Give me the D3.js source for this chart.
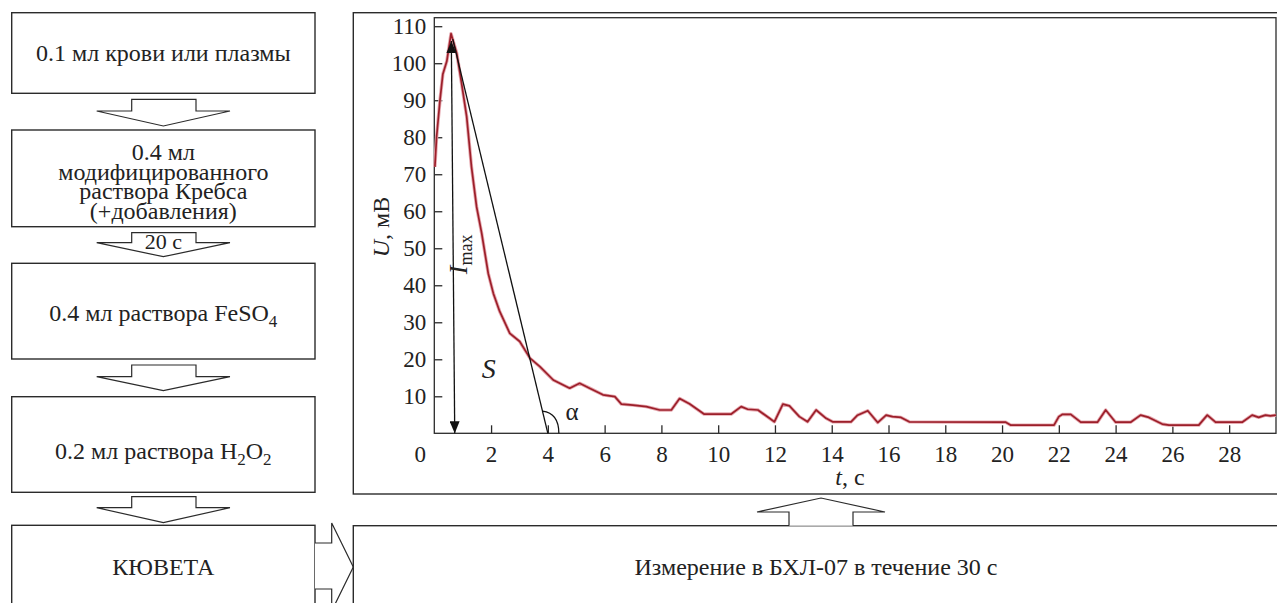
<!DOCTYPE html>
<meta charset="utf-8">
<style>
body { margin: 0; background: #fff; }
svg text { font-family: "Liberation Serif", "Times New Roman", serif; fill: #222; }
.box { fill: none; stroke: #2b2b2b; stroke-width: 1.4; }
.blk { fill: #fff; stroke: #2b2b2b; stroke-width: 1.2; stroke-linejoin: miter; }
.axis path { display: none; }
.axis line { stroke: #2b2b2b; stroke-width: 1.3; }
.axis text { font-family: "Liberation Serif", "Times New Roman", serif; font-size: 23px; fill: #222; }
</style>
<body>
<svg width="1277" height="603"></svg>
<script src="https://d3js.org/d3.v7.min.js"></script>
<script>

// Flow-chart steps (left column), "_n" marks a subscript digit
var steps = [
  ["0.1 мл крови или плазмы"],
  ["0.4 мл", "модифицированного", "раствора Кребса", "(+добавления)"],
  ["0.4 мл раствора FeSO_4"],
  ["0.2 мл раствора H_2O_2"],
  ["КЮВЕТА"]
];
var delayLabel = "20 с";
var measureLabel = "Измерение в БХЛ-07 в течение 30 с";

// Chemiluminescence record: time (s) and signal (mV)
var tValues = [
  0.02, 0.08, 0.2, 0.3, 0.44, 0.59, 0.79, 0.96, 1.14, 1.31,
  1.49, 1.67, 1.9, 2.08, 2.3, 2.66, 3.01, 3.37, 3.72, 4.19,
  4.77, 5.12, 5.47, 5.94, 6.36, 6.59, 7.0, 7.47, 7.94, 8.35,
  8.64, 9.0, 9.5, 10.46, 10.81, 11.04, 11.4, 11.81, 11.98, 12.28,
  12.51, 12.86, 13.15, 13.45, 13.8, 14.03, 14.68, 14.91, 15.27, 15.62,
  15.91, 16.14, 16.44, 16.73, 20.13, 20.31, 21.83, 22.0, 22.12, 22.42,
  22.77, 23.36, 23.65, 24.0, 24.53, 24.88, 25.17, 25.64, 25.88, 26.93,
  27.23, 27.52, 28.46, 28.81, 29.04, 29.28, 29.45, 29.65
];
var uValues = [
  72, 80, 90, 97, 100.5, 108, 102.7, 94.6, 85.6, 72,
  61.2, 54, 43.2, 37.8, 33, 27, 24.8, 20.3, 18, 14.4,
  12.2, 13.5, 12.2, 10.4, 9.9, 7.9, 7.6, 7.2, 6.3, 6.3,
  9.4, 7.9, 5.2, 5.2, 7.2, 6.5, 6.3, 4.05, 3.1, 7.9,
  7.4, 4.5, 3.1, 6.3, 4.05, 3.1, 3.1, 4.9, 6.1, 2.9,
  4.9, 4.5, 4.3, 3.1, 3.0, 2.2, 2.2, 4.5, 5.1, 5.1,
  3.0, 3.0, 6.3, 3.0, 3.0, 4.9, 4.3, 2.5, 2.2, 2.2,
  4.9, 3.0, 3.0, 4.9, 4.3, 4.9, 4.7, 4.9
];
var xTicks = [2, 4, 6, 8, 10, 12, 14, 16, 18, 20, 22, 24, 26, 28];
var yTicks = [10, 20, 30, 40, 50, 60, 70, 80, 90, 100, 110];

// Tangent from the peak to the time axis, and the I_max arrow
var tangent = [[0.65, 106.5], [4.0, 0]];
var imaxArrow = [[0.6, 106], [0.72, 0]];

var svg = d3.select("svg");

// helper: text with "_n" subscripts
function richText(sel, str, size) {
  var parts = str.split(/_(\d)/);
  parts.forEach(function(p, i) {
    if (!p) return;
    var sub = i % 2 === 1;
    sel.append("tspan")
      .attr("dy", sub ? 6 : (i > 0 ? -6 : null))
      .style("font-size", sub ? Math.round(size * 0.72) + "px" : null)
      .text(p);
  });
}

// ---- left column boxes
var colX0 = 11.7, colX1 = 315, colC = (colX0 + colX1) / 2;
var boxY = [[12.7, 93.3], [130, 226.7], [263.3, 359], [396.7, 492.3], [525.3, 640]];
var textY = [53, 181.5, 313, 451, 567];
var lineH = 19.8;
var boxFont = 24;

steps.forEach(function(lines, i) {
  svg.append("rect").attr("class", "box")
    .attr("x", colX0).attr("y", boxY[i][0])
    .attr("width", colX1 - colX0).attr("height", boxY[i][1] - boxY[i][0]);
  var t = svg.append("text")
    .attr("text-anchor", "middle")
    .style("font-size", boxFont + "px");
  lines.forEach(function(l, j) {
    var ts = t.append("tspan")
      .attr("x", colC)
      .attr("y", textY[i] + (j - (lines.length - 1) / 2) * lineH + 8);
    if (l.indexOf("_") < 0) ts.text(l);
    else richText(ts, l, boxFont);
  });
});

// block arrows pointing down between the boxes
var arrowY = [[99.3, 111, 126], [232.7, 242.7, 256.7], [365, 376.7, 390.7], [496.7, 507.7, 522.7]];
var shaftL = 131.7, shaftR = 196, wingL = 96.7, wingR = 230;
arrowY.forEach(function(a) {
  var p = d3.path();
  p.moveTo(shaftL, a[0]); p.lineTo(shaftR, a[0]); p.lineTo(shaftR, a[1]);
  p.lineTo(wingR, a[1]); p.lineTo(colC, a[2]); p.lineTo(wingL, a[1]);
  p.lineTo(shaftL, a[1]); p.closePath();
  svg.append("path").attr("class", "blk").attr("d", p.toString());
});
svg.append("text")
  .attr("x", colC).attr("y", 241.5).attr("dy", "0.35em")
  .attr("text-anchor", "middle").style("font-size", "22px")
  .text(delayLabel);

// right arrow from the cuvette to the luminometer
(function() {
  var p = d3.path();
  p.moveTo(315, 543); p.lineTo(331.7, 543); p.lineTo(331.7, 523);
  p.lineTo(353.3, 567); p.lineTo(331.7, 611); p.lineTo(331.7, 589);
  p.lineTo(315, 589);
  svg.append("path").attr("class", "blk").attr("d", p.toString());
})();

// measurement box
svg.append("rect").attr("class", "box")
  .attr("x", 353.3).attr("y", 525.7).attr("width", 960).attr("height", 120);
svg.append("text")
  .attr("x", 816).attr("y", 567).attr("dy", "0.35em")
  .attr("text-anchor", "middle").style("font-size", "24px")
  .text(measureLabel);

// up arrow from measurement to the chart
(function() {
  var p = d3.path();
  p.moveTo(789, 525.7); p.lineTo(789, 512); p.lineTo(757, 512);
  p.lineTo(821, 498); p.lineTo(885, 512); p.lineTo(853, 512);
  p.lineTo(853, 525.7);
  svg.append("path").attr("class", "blk").attr("d", p.toString());
})();

// ---- chart
svg.append("rect").attr("class", "box")
  .attr("x", 353.3).attr("y", 12.7).attr("width", 960).attr("height", 494 - 12.7);

var x = d3.scaleLinear().domain([0, 29.65]).range([434.3, 1276]);
var y = d3.scaleLinear().domain([0, 112.3]).range([433.3, 17.7]);

// plot frame
svg.append("rect")
  .attr("x", x(0)).attr("y", y(112.3))
  .attr("width", x(29.65) - x(0)).attr("height", y(0) - y(112.3))
  .style("fill", "none").style("stroke", "#2b2b2b").style("stroke-width", 1.3);

svg.append("g").attr("class", "axis")
  .attr("transform", "translate(0," + y(0) + ")")
  .call(d3.axisBottom(x).tickValues(xTicks).tickSize(-8).tickPadding(4))
  .selectAll("text").attr("y", 12);

svg.append("g").attr("class", "axis")
  .attr("transform", "translate(" + x(0) + ",0)")
  .call(d3.axisLeft(y).tickValues(yTicks).tickSize(-8).tickPadding(8));

// origin label
svg.append("text")
  .attr("x", x(0) - 14).attr("y", y(0) + 12).attr("dy", "0.71em")
  .attr("text-anchor", "middle").style("font-size", "23px")
  .text("0");

// axis titles
var yl = svg.append("text")
  .attr("transform", "translate(389,227) rotate(-90)")
  .attr("text-anchor", "middle").style("font-size", "24px");
yl.append("tspan").style("font-style", "italic").text("U");
yl.append("tspan").text(", мВ");

var xl = svg.append("text")
  .attr("x", 850).attr("y", 485)
  .attr("text-anchor", "middle").style("font-size", "24px");
xl.append("tspan").style("font-style", "italic").text("t");
xl.append("tspan").text(", с");

// signal curve
var pts = tValues.map(function(t, i) { return [t, uValues[i]]; });
var line = d3.line().x(function(d) { return x(d[0]); }).y(function(d) { return y(d[1]); });
svg.append("path").datum(pts).attr("d", line)
  .style("fill", "none").style("stroke", "#e6a9b0").style("stroke-width", 3.4)
  .style("stroke-linejoin", "round");
svg.append("path").datum(pts).attr("d", line)
  .style("fill", "none").style("stroke", "#9c1f2a").style("stroke-width", 1.7)
  .style("stroke-linejoin", "round");

// tangent line
svg.append("path").datum(tangent).attr("d", line)
  .style("fill", "none").style("stroke", "#111").style("stroke-width", 1.3);

// I_max double arrow
svg.append("defs").append("marker")
  .attr("id", "head").attr("viewBox", "0 0 12 10")
  .attr("refX", 12).attr("refY", 5)
  .attr("markerWidth", 12).attr("markerHeight", 10)
  .attr("markerUnits", "userSpaceOnUse")
  .attr("orient", "auto-start-reverse")
  .append("path").attr("d", "M0,0 L12,5 L0,10 Z").style("fill", "#111");
svg.append("path").datum(imaxArrow).attr("d", line)
  .style("fill", "none").style("stroke", "#111").style("stroke-width", 1.3)
  .attr("marker-start", "url(#head)").attr("marker-end", "url(#head)");

// angle arc at the tangent's foot
(function() {
  var fx = x(tangent[1][0]), fy = y(0);
  var sy = y(6);
  var k = (sy - fy) / (y(tangent[0][1]) - fy);
  var sx = fx + (x(tangent[0][0]) - fx) * k;
  var p = d3.path();
  p.moveTo(sx, sy);
  p.quadraticCurveTo(fx + 11, sy + 2, fx + 11, fy);
  svg.append("path").attr("d", p.toString())
    .style("fill", "none").style("stroke", "#111").style("stroke-width", 1.3);
})();

svg.append("text").attr("x", x(4.85)).attr("y", y(6)).attr("dy", "0.35em")
  .attr("text-anchor", "middle").style("font-size", "25px").text("α");

svg.append("text").attr("x", x(1.92)).attr("y", y(17.5)).attr("dy", "0.35em")
  .attr("text-anchor", "middle").style("font-size", "28px").style("font-style", "italic")
  .text("S");

var im = svg.append("text")
  .attr("transform", "translate(" + x(1.14) + "," + y(43) + ") rotate(-90)")
  .style("font-size", "26px");
im.append("tspan").style("font-style", "italic").text("I");
im.append("tspan").attr("dy", 5).style("font-size", "18px").text("max");

</script>
